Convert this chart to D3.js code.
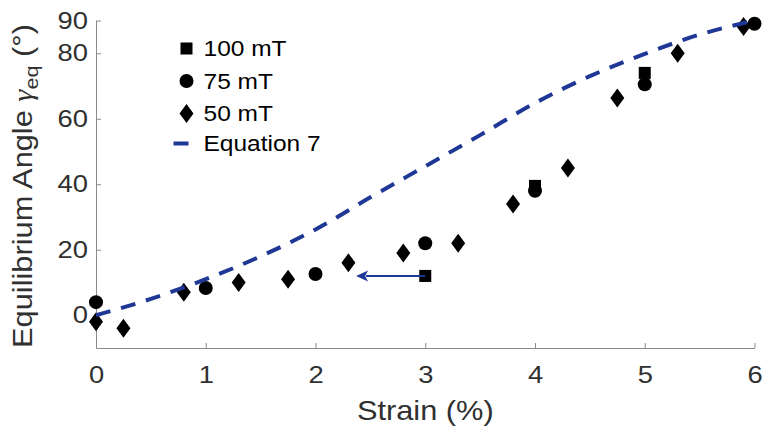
<!DOCTYPE html>
<html>
<head>
<meta charset="utf-8">
<script src="https://cdn.jsdelivr.net/npm/d3@7/dist/d3.min.js"></script>
<style>
  html, body { margin: 0; padding: 0; background: #fff; }
  svg { display: block; font-family: "Liberation Sans", Arial, sans-serif; }
</style>
</head>
<body>
<div id="chart"></div>
<script>
(function () {
    'use strict';

    // measured points, strain (%) vs equilibrium angle (deg)
    var strain100 = [3, 4, 5];
    var angle100 = [12, 39.5, 74];

    var strain75 = [0, 1, 2, 3, 4, 5, 6];
    var angle75 = [4, 8.3, 12.6, 22, 38, 70.5, 89];

    var strain50 = [0, 0.25, 0.8, 1.3, 1.75, 2.3, 2.8, 3.3, 3.8, 4.3, 4.75, 5.3, 5.9];
    var angle50 = [-2, -4, 7, 10, 11, 16, 19, 22, 34, 45, 66.3, 80, 88.2];

    // model curve (Equation 7) sampled along the strain axis
    var strainFit = [0, 0.5, 1, 1.5, 2, 2.5, 3, 3.5, 4, 4.5, 5, 5.5, 6];
    var angleFit = [0, 5, 11, 18, 26.2, 36, 45.5, 55, 64.8, 73, 79.8, 85.7, 90];

    // shift of the 100 mT point at 3 %
    var arrowFrom = [3, 12];
    var arrowTo = [2.37, 12];

    var xTicks = [0, 1, 2, 3, 4, 5, 6];
    var yTicks = [0, 20, 40, 60, 80, 90];

    var legendLabels = ['100 mT', '75 mT', '50 mT', 'Equation 7'];

    var width = 763, height = 427;
    var blue = '#1f3896', ink = '#303030', axisGrey = '#8a8a8a';
    var stretch = 1.14;

    function zip(xs, ys) {
        return xs.map(function (v, i) { return [v, ys[i]]; });
    }

    var svg = d3.select('#chart').append('svg')
        .attr('width', width)
        .attr('height', height);

    var x = d3.scaleLinear().domain([0, 6]).range([96, 754.5]);
    var y = d3.scaleLinear().domain([-10, 90]).range([348, 20.5]);

    // axes, ticks pointing inward
    var xAxis = svg.append('g')
        .attr('transform', 'translate(0,' + y(-10) + ')')
        .call(d3.axisBottom(x).tickValues(xTicks).tickFormat(d3.format('d'))
            .tickSizeInner(-5).tickSizeOuter(0).tickPadding(18));
    var yAxis = svg.append('g')
        .attr('transform', 'translate(' + x(0) + ',0)')
        .call(d3.axisLeft(y).tickValues(yTicks).tickFormat(d3.format('d'))
            .tickSizeInner(-5).tickSizeOuter(0).tickPadding(8));

    [xAxis, yAxis].forEach(function (ax) {
        ax.select('.domain').attr('stroke', axisGrey).attr('stroke-width', 1);
        ax.selectAll('.tick line').attr('stroke', axisGrey).attr('stroke-width', 1);
        ax.selectAll('.tick text')
            .attr('fill', ink)
            .style('font-size', '24px')
            .style('font-family', '"Liberation Sans", Arial, sans-serif');
    });
    xAxis.selectAll('.tick text').attr('transform', 'scale(' + stretch + ',1)');
    yAxis.selectAll('.tick text')
        .attr('x', -8 / stretch)
        .attr('transform', 'scale(' + stretch + ',1)');

    // axis titles
    svg.append('text')
        .attr('transform', 'translate(' + x(3) + ',420) scale(' + stretch + ',1)')
        .attr('text-anchor', 'middle')
        .attr('fill', ink)
        .style('font-size', '27px')
        .text('Strain (%)');

    var yTitle = svg.append('text')
        .attr('transform', 'translate(32,186) rotate(-90) scale(' + stretch + ',1)')
        .attr('text-anchor', 'middle')
        .attr('fill', ink)
        .style('font-size', '27px');
    yTitle.append('tspan').text('Equilibrium Angle ');
    yTitle.append('tspan').style('font-family', '"Liberation Serif", serif').style('font-style', 'italic')
        .text('γ');
    yTitle.append('tspan').attr('dy', 6).style('font-size', '19px').text('eq');
    yTitle.append('tspan').attr('dy', -6).text(' (°)');

    // marker shapes
    function square(g) {
        g.append('rect').attr('x', -6).attr('y', -6).attr('width', 12).attr('height', 12).attr('fill', '#000');
    }
    function circle(g) {
        g.append('circle').attr('r', 7).attr('fill', '#000');
    }
    function diamond(g) {
        g.append('path').attr('d', 'M0,-9.5L7,0L0,9.5L-7,0Z').attr('fill', '#000');
    }

    function drawSeries(xs, ys, shape) {
        var pts = svg.append('g').selectAll('g')
            .data(zip(xs, ys))
            .join('g')
            .attr('transform', function (d) { return 'translate(' + x(d[0]) + ',' + y(d[1]) + ')'; });
        pts.each(function () { shape(d3.select(this)); });
    }

    drawSeries(strain100, angle100, square);
    drawSeries(strain75, angle75, circle);
    drawSeries(strain50, angle50, diamond);

    // arrow from the 100 mT point
    var ax0 = x(arrowFrom[0]), ay0 = y(arrowFrom[1]);
    var ax1 = x(arrowTo[0]), ay1 = y(arrowTo[1]);
    svg.append('line')
        .attr('x1', ax0).attr('y1', ay0)
        .attr('x2', ax1 + 10).attr('y2', ay1)
        .attr('stroke', blue).attr('stroke-width', 2);
    svg.append('path')
        .attr('d', 'M' + ax1 + ',' + ay1 + 'l12,-5.5l-3,5.5l3,5.5z')
        .attr('fill', blue);

    // Equation 7 curve
    var line = d3.line()
        .x(function (d) { return x(d[0]); })
        .y(function (d) { return y(d[1]); })
        .curve(d3.curveMonotoneX);
    svg.append('path')
        .datum(zip(strainFit, angleFit))
        .attr('d', line)
        .attr('fill', 'none')
        .attr('stroke', blue)
        .attr('stroke-width', 4)
        .attr('stroke-dasharray', '15,11');

    // legend
    var legendShapes = [square, circle, diamond, null];
    var legendY = [48.5, 81, 113.5, 143.5];
    var legend = svg.append('g');
    legendLabels.forEach(function (label, i) {
        var row = legend.append('g').attr('transform', 'translate(186.5,' + legendY[i] + ')');
        if (legendShapes[i]) {
            legendShapes[i](row);
        } else {
            row.append('line').attr('x1', -13).attr('x2', 2).attr('stroke', blue).attr('stroke-width', 4);
        }
        row.append('text')
            .attr('transform', 'translate(17,0) scale(' + stretch + ',1)')
            .attr('dy', '0.36em')
            .attr('fill', '#000')
            .style('font-size', '21.5px')
            .text(label);
    });
}());
</script>
</body>
</html>
